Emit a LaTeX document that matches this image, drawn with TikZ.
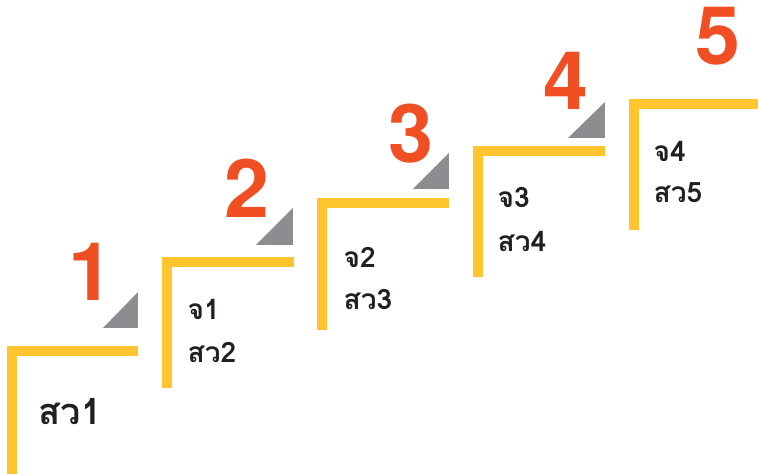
\documentclass[tikz,border=0pt]{standalone}
\usepackage{fontspec}
\setmainfont{TeX Gyre Heros}
\newfontfamily\thaifont[Script=Thai]{Loma}
\definecolor{stepyellow}{RGB}{255,197,47}
\definecolor{numred}{RGB}{240,78,35}
\definecolor{cornergray}{RGB}{140,141,145}
\definecolor{labelblack}{RGB}{35,31,32}
\tikzset{
  stepline/.style={line width=0.1cm, draw=stepyellow, line cap=butt, line join=miter},
  corner/.style={fill=cornergray, draw=none},
  stepnum/.style={font=\fontsize{23}{23}\selectfont\bfseries, text=numred, anchor=base, inner sep=0pt},
  steplabel/.style={font=\thaifont\fontsize{8}{8}\selectfont\bfseries, text=labelblack, anchor=base west, inner sep=0pt},
  steplabelbig/.style={steplabel, font=\thaifont\fontsize{10.3}{10.3}\selectfont\bfseries},
}
\begin{document}
\begin{tikzpicture}
\useasboundingbox (0,0) rectangle (7.58,4.74);
\draw[stepline] (0.120,0.000) -- (0.120,1.230) -- (1.380,1.230);
\draw[stepline] (1.670,0.860) -- (1.670,2.120) -- (2.940,2.120);
\draw[stepline] (3.225,1.440) -- (3.225,2.705) -- (4.490,2.705);
\draw[stepline] (4.780,1.970) -- (4.780,3.225) -- (6.050,3.225);
\draw[stepline] (6.340,2.440) -- (6.340,3.700) -- (7.600,3.700);
\fill[corner] (1.030,1.460) -- (1.380,1.460) -- (1.380,1.820) -- cycle;
\fill[corner] (2.560,2.290) -- (2.930,2.290) -- (2.930,2.660) -- cycle;
\fill[corner] (4.130,2.850) -- (4.490,2.850) -- (4.490,3.210) -- cycle;
\fill[corner] (5.680,3.360) -- (6.050,3.360) -- (6.050,3.720) -- cycle;
\node[stepnum] (num1) at (0.910,1.730) {1};
\node[stepnum] (num2) at (2.465,2.560) {2};
\node[stepnum] (num3) at (4.105,3.115) {3};
\node[stepnum] (num4) at (5.655,3.640) {4};
\node[stepnum] (num5) at (7.180,4.095) {5};
\node[steplabelbig] (lab1b) at (0.380,0.490) {สว1};
\node[steplabel] (lab2a) at (1.870,1.540) {จ1};
\node[steplabel] (lab2b) at (1.870,1.110) {สว2};
\node[steplabel] (lab3a) at (3.430,2.060) {จ2};
\node[steplabel] (lab3b) at (3.430,1.640) {สว3};
\node[steplabel] (lab4a) at (4.970,2.660) {จ3};
\node[steplabel] (lab4b) at (4.970,2.220) {สว4};
\node[steplabel] (lab5a) at (6.530,3.120) {จ4};
\node[steplabel] (lab5b) at (6.530,2.710) {สว5};
\end{tikzpicture}
\end{document}
